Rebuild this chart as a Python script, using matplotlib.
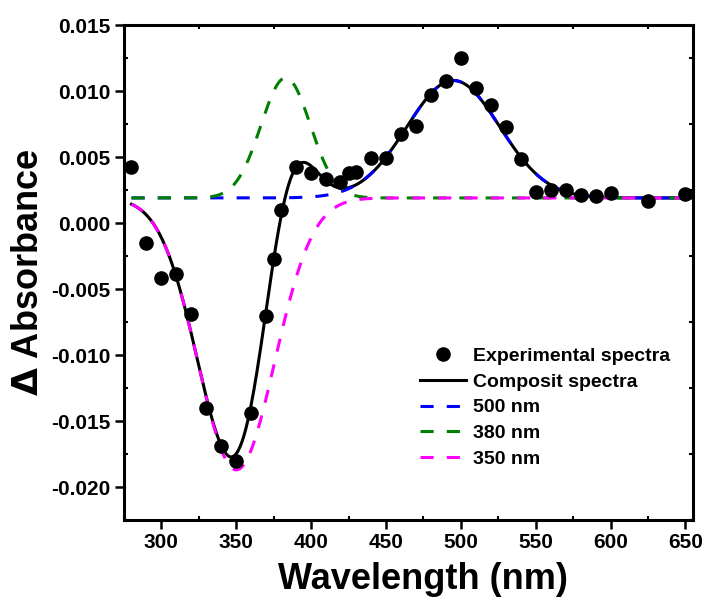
import numpy as np
import matplotlib.pyplot as plt
from matplotlib.ticker import MultipleLocator

plt.rcParams['font.family'] = ['Liberation Sans', 'DejaVu Sans']
plt.rcParams['font.weight'] = 'bold'
plt.rcParams['axes.unicode_minus'] = False
plt.rcParams['mathtext.fontset'] = 'dejavusans'

# experimental points
wavelength_exp = [280, 290, 300, 310, 320, 330, 340, 350, 360, 370, 375, 380,
                  390, 400, 410, 419, 425, 430, 440, 450, 460, 470, 480, 490,
                  500, 510, 520, 530, 540, 550, 560, 570, 580, 590, 600, 625, 650]
absorbance_exp = [0.00427, -0.00154, -0.00419, -0.00386, -0.0069, -0.01404,
                  -0.01687, -0.01801, -0.01442, -0.00702, -0.00275, 0.00098,
                  0.00422, 0.00376, 0.00331, 0.00313, 0.00376, 0.00389,
                  0.0049, 0.0049, 0.00674, 0.00735, 0.0097, 0.01076, 0.0125,
                  0.01023, 0.00894, 0.00727, 0.00485, 0.00235, 0.0025, 0.0025,
                  0.00212, 0.00205, 0.00227, 0.00167, 0.0022]

# gaussian bands of the fit
band_labels = ['500 nm', '380 nm', '350 nm']
band_colors = ['#0000ff', '#008000', '#ff00ff']
band_centers = [495, 383, 350]
band_widths = [31, 16.5, 25.5]
band_amps = [0.0089, 0.0091, -0.0206]
baseline = 0.0019

wl = np.linspace(280, 654, 600)
bands = [a * np.exp(-(wl - c) ** 2 / (2 * w ** 2))
         for c, w, a in zip(band_centers, band_widths, band_amps)]
composite = baseline + sum(bands)

fig = plt.figure(figsize=(7.07, 6.10), dpi=100)
ax = fig.add_axes([0.1754, 0.1475, 0.8046, 0.8115])

ax.plot(wl, composite, color='black', lw=2.2, label='Composit spectra', zorder=3)
for g, lab, col in zip(bands, band_labels, band_colors):
    ax.plot(wl, baseline + g, color=col, lw=2.2, ls=(0, (4.3, 4.3)), label=lab, zorder=4)
ax.plot(wavelength_exp, absorbance_exp, 'o', color='black', ms=9.5,
        label='Experimental spectra', zorder=5)

ax.set_xlim(275, 655)
ax.set_ylim(-0.0225, 0.015)
ax.xaxis.set_minor_locator(MultipleLocator(25))
ax.yaxis.set_minor_locator(MultipleLocator(0.0025))
ax.set_xticks(np.arange(300, 651, 50))
ax.set_yticks(np.arange(-0.020, 0.0151, 0.005))
ax.yaxis.set_major_formatter(plt.FormatStrFormatter('%.3f'))

for s in ax.spines.values():
    s.set_linewidth(2.2)
ax.tick_params(which='major', direction='out', length=6.5, width=1.8,
               labelsize=15, pad=3)
ax.tick_params(which='minor', direction='in', length=3, width=1.5)
ax.tick_params(which='both', top=True, right=True)
ax.tick_params(axis='x', which='major', top=False)
ax.tick_params(axis='y', which='major', right=False)

ax.set_xlabel('Wavelength (nm)', fontsize=26, fontweight='bold', labelpad=6)
ax.xaxis.set_label_coords(0.526, -0.085)
ax.set_ylabel(r'$\Delta$ Absorbance', fontsize=26, fontweight='bold', labelpad=4)

h, l = ax.get_legend_handles_labels()
order = [4, 0, 1, 2, 3]
ax.legend([h[i] for i in order], [l[i] for i in order], loc='upper left',
          bbox_to_anchor=(0.52, 0.349), frameon=False,
          handlelength=2.4, handletextpad=0.35, labelspacing=0.42,
          borderpad=0, borderaxespad=0, prop={'weight': 'bold', 'size': 14})

fig.savefig('out.png', dpi=100)
